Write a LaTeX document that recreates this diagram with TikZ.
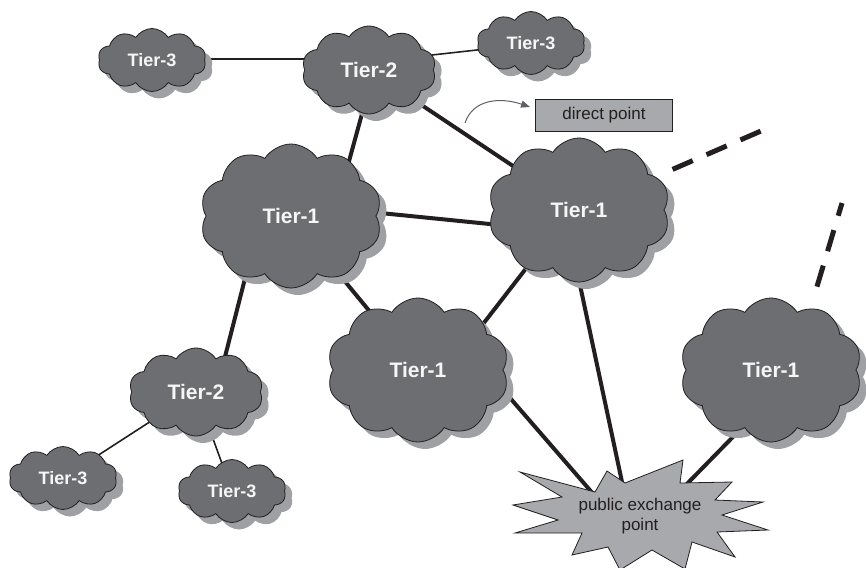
\documentclass[tikz,border=0pt]{standalone}
\usepackage{fontspec}
\setmainfont{Liberation Sans}
\usetikzlibrary{shapes.symbols,shadows,calc,backgrounds,arrows.meta}

\definecolor{cloudfill}{RGB}{109,110,113}
\definecolor{cloudshade}{RGB}{158,160,163}
\definecolor{panelfill}{RGB}{167,169,172}
\definecolor{ink}{RGB}{35,31,32}
\definecolor{cloudtext}{RGB}{246,246,246}
\definecolor{pointergray}{RGB}{95,96,100}

\begin{document}
\begin{tikzpicture}[x=1pt,y=-1pt,
  net/.style={cloud, cloud puffs=10, cloud puff arc=115, cloud ignores aspect,
    draw=ink, line width=0.8pt, fill=cloudfill, text=cloudtext, inner sep=0pt,
    general shadow={fill=cloudshade, draw=none, shadow xshift=7pt, shadow yshift=-7pt}},
  tierone/.style={net, minimum width=182pt, minimum height=144pt,
    font=\fontsize{21}{25}\selectfont\bfseries},
  tiertwo/.style={net, minimum width=134pt, minimum height=88pt,
    font=\fontsize{21}{25}\selectfont\bfseries},
  tierthree/.style={net, minimum width=108pt, minimum height=63pt,
    font=\fontsize{18}{22}\selectfont\bfseries,
    general shadow={fill=cloudshade, draw=none, shadow xshift=6pt, shadow yshift=-6pt}},
  thicklink/.style={ink, line width=4pt},
  thinlink/.style={ink, line width=1.6pt},
  trunk/.style={ink, line width=5pt, dash pattern=on 22pt off 15pt},
  label/.style={font=\fontsize{17}{19.5}\selectfont, text=ink},
  pointer/.style={pointergray, line width=1pt, -{Triangle[length=9pt,width=7pt]}},
]
\useasboundingbox (0,0) rectangle (866,567);

% exchange point: an irregular starburst
\draw[ink, line width=0.8pt, fill=panelfill]
  (520,472) -- (595,492) -- (607,471) -- (625,483) -- (683,460) -- (680,483)
  -- (732,482) -- (715,500) -- (763,502) -- (722,515) -- (768,530) -- (717,532)
  -- (735,557) -- (692,542) -- (685,569) -- (652,550) -- (620,570) -- (608,547)
  -- (572,555) -- (582,533) -- (515,533) -- (558,520) -- (513,505) -- (562,497)
  -- cycle;
\node[label, align=center] (pep) at (640,516) {public exchange\\point};

% provider clouds
\node[tierthree] (T3a) at (152,60)  {Tier-3};
\node[tiertwo]   (T2a) at (369,70)  {Tier-2};
\node[tierthree] (T3b) at (531,43)  {Tier-3};
\node[tierone]   (T1a) at (291,216) {Tier-1};
\node[tierone]   (T1b) at (579,210) {Tier-1};
\node[tierone]   (T1c) at (418,370) {Tier-1};
\node[tierone]   (T1d) at (771,370) {Tier-1};
\node[tiertwo]   (T2b) at (196,392) {Tier-2};
\node[tierthree] (T3c) at (63,478)  {Tier-3};
\node[tierthree] (T3d) at (232,491) {Tier-3};

% private peering label
\node[label, draw=ink, line width=0.9pt, fill=panelfill, minimum width=137pt,
      minimum height=32pt, inner sep=0pt] (dp) at (604,115) {direct point};
\coordinate (arw) at (465,123);
\draw[pointer] (arw) .. controls +(8,-24) and +(-30,-10) .. ($(dp.west)+(-5,-8)$);

% links, kept behind the clouds
\begin{scope}[on background layer]
  \draw[thinlink] ($(T3a.center)+(0,-1)$) -- ($(T2a.center)+(0,-11)$);
  \draw[thinlink] ($(T2a.center)+(0,-8)$) -- ($(T3b.center)+(0,1)$);
  \draw[thicklink] ($(T2a.center)+(5,0)$) -- ($(T1a.center)+(43,0)$);
  \draw[thicklink] (T2a.center) -- (T1b.center);
  \draw[thicklink] ($(T1a.center)+(0,-12)$) -- ($(T1b.center)+(0,23)$);
  \draw[thicklink] (T1a.center) -- (T1c.center);
  \draw[thicklink] ($(T1b.center)+(0,-10)$) -- ($(T1c.center)+(0,38)$);
  \draw[thicklink] ($(T1b.center)+(-15,0)$) -- ($(pep.center)+(-15,-20)$);
  \draw[thicklink] ($(T1c.center)+(60,-9)$) -- ($(pep.center)+(-45,-20)$);
  \draw[thicklink] ($(T1d.center)+(0,28)$) -- ($(pep.center)+(40,-25)$);
  \draw[thicklink] ($(T1a.center)+(-30,0)$) -- ($(T2b.center)+(20,0)$);
  \draw[thinlink] (T2b.center) -- (T3c.center);
  \draw[thinlink] (T2b.center) -- (T3d.center);
  \coordinate (d1) at (761,131);
  \coordinate (d2) at (842,203);
  \draw[trunk, shorten <=102pt] (T1b.center) -- (d1);
  \draw[trunk, shorten <=87pt] ($(T1d.center)+(21,0)$) -- (d2);
\end{scope}
\end{tikzpicture}
\end{document}
